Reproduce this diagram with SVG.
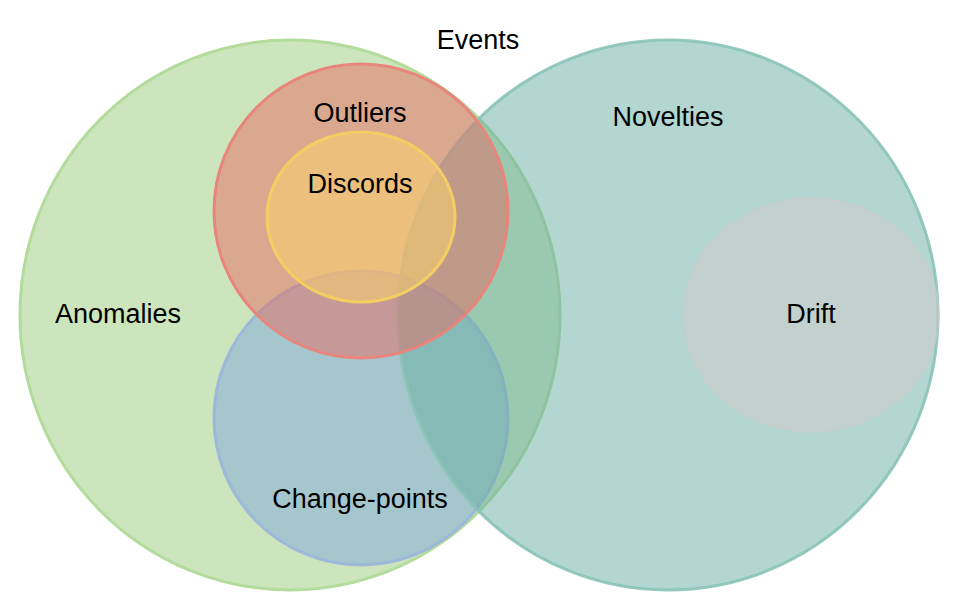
<svg xmlns="http://www.w3.org/2000/svg" width="962" height="614" viewBox="0 0 962 614">
<style>
  .lbl { font-family: "Liberation Sans", Arial, Helvetica, sans-serif; font-size: 27px; fill: #000; text-anchor: middle; }
  .set { stroke-width: 3; }
</style>
<rect width="962" height="614" fill="#ffffff"/>
<g id="anomalies">
  <ellipse class="set" cx="290" cy="315" rx="270" ry="275" fill="#99cb7b" fill-opacity="0.5" stroke="#b3db9c"/>
</g>
<g id="change-points">
  <circle class="set" cx="361" cy="418" r="147" fill="#7ca7db" fill-opacity="0.5" stroke="#9ab5dc" stroke-opacity="0.9"/>
</g>
<g id="novelties">
  <ellipse class="set" cx="668" cy="315" rx="270" ry="275" fill="#67ada1" fill-opacity="0.5" stroke="#8ac3b6" stroke-opacity="0.9"/>
</g>
<g id="outliers">
  <circle class="set" cx="361" cy="211" r="147" fill="#e66b61" fill-opacity="0.5" stroke="#e8857c"/>
</g>
<g id="discords">
  <ellipse class="set" cx="361" cy="217" rx="94" ry="85" fill="#ffd869" fill-opacity="0.5" stroke="#f4cd63"/>
</g>
<g id="drift">
  <ellipse cx="811" cy="315" rx="128" ry="117" fill="#d1cccc" fill-opacity="0.5" stroke="#c9cccb" stroke-width="1.5" stroke-opacity="0.6"/>
</g>
<g id="labels">
  <text class="lbl" x="478" y="49">Events</text>
  <text class="lbl" x="118" y="323">Anomalies</text>
  <text class="lbl" x="668" y="126">Novelties</text>
  <text class="lbl" x="360" y="122">Outliers</text>
  <text class="lbl" x="360" y="193">Discords</text>
  <text class="lbl" x="360" y="508">Change-points</text>
  <text class="lbl" x="811" y="323">Drift</text>
</g>
<g id="connectors"></g>
</svg>
